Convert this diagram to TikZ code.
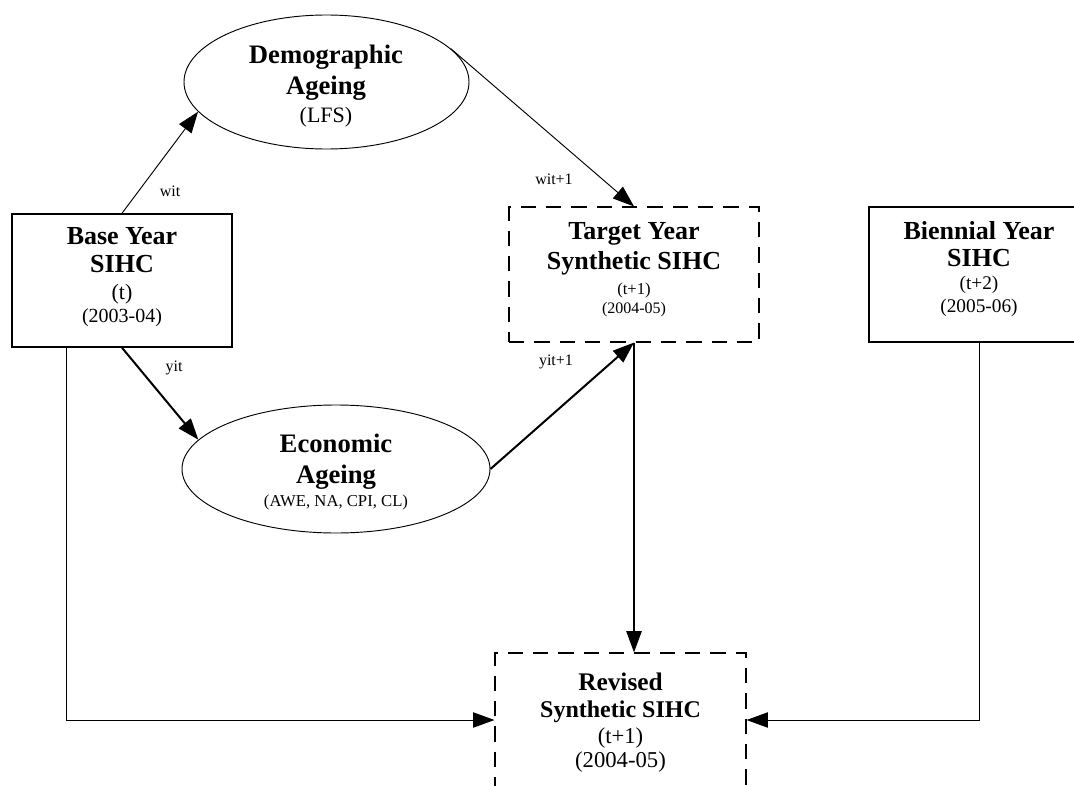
\documentclass[tikz,border=0pt]{standalone}
\usepackage{fontspec}
\setmainfont{Liberation Serif}
\usetikzlibrary{arrows.meta,shapes.geometric,calc}
\newcommand\bfs{\fontsize{19.5}{23}\selectfont\bfseries}
\newcommand\fsz[1]{\fontsize{#1}{#1}\selectfont}
\begin{document}
\begin{tikzpicture}[x=0.75pt,y=-0.75pt,
  sbox/.style={draw, line width=1.1pt, inner sep=0pt},
  dbox/.style={draw, line width=0.85pt, inner sep=0pt, dash pattern=on 11.5pt off 7.5pt},
  ell/.style={draw, ellipse, line width=0.7pt, inner sep=0pt},
  tx/.style={anchor=base, inner sep=0pt},
  lbl/.style={anchor=base, inner sep=0pt, font=\fsz{12}},
  arr/.style={-{Triangle[length=16pt,width=11.5pt]}},
  thinarr/.style={arr, line width=0.7pt},
  medarr/.style={arr, line width=1.1pt},
  thickarr/.style={arr, line width=1.5pt}
]
\useasboundingbox (0,0) rectangle (1074,785);

% shapes
\node[sbox, minimum width=165pt, minimum height=99.75pt] (base) at (122,280.5) {};
\node[dbox, minimum width=187.5pt, minimum height=101.25pt] (target) at (634,274.5) {};
\node[sbox, minimum width=165pt, minimum height=101.25pt] (bien) at (979,274.5) {};
\node[dbox, minimum width=188.25pt, minimum height=100.5pt] (rev) at (620.5,720) {};
\node[ell, minimum width=213.75pt, minimum height=100.5pt] (demo) at (326.5,82) {};
\node[ell, minimum width=231pt, minimum height=96pt] (econ) at (336,469) {};

% texts
\node[tx] (baseA) at (122,244) {\bfs Base Year};
\node[tx] (baseB) at (122,272) {\bfs SIHC};
\node[tx] (baseC) at (122,299) {\fsz{16.5}(t)};
\node[tx] (baseD) at (122,322) {\fsz{15}(2003-04)};

\node[tx] (targetA) at (634,239) {\bfs Target Year};
\node[tx] (targetB) at (634,269) {\bfs Synthetic SIHC};
\node[tx] (targetC) at (634,294) {\fsz{12.5}(t+1)};
\node[tx] (targetD) at (634,313) {\fsz{12}(2004-05)};

\node[tx] (bienA) at (979,239) {\bfs Biennial Year};
\node[tx] (bienB) at (979,266) {\bfs SIHC};
\node[tx] (bienC) at (979,289) {\fsz{14.5}(t+2)};
\node[tx] (bienD) at (979,312) {\fsz{14.5}(2005-06)};

\node[tx] (revA) at (620.5,690) {\fontsize{19}{22}\selectfont\bfseries Revised};
\node[tx] (revB) at (620.5,717) {\fontsize{18}{22}\selectfont\bfseries Synthetic SIHC};
\node[tx] (revC) at (620.5,743) {\fsz{17}(t+1)};
\node[tx] (revD) at (620.5,767) {\fsz{17}(2004-05)};

\node[tx] (demoA) at (326,63) {\fontsize{20}{23}\selectfont\bfseries Demographic};
\node[tx] (demoB) at (326,94) {\fontsize{20}{23}\selectfont\bfseries Ageing};
\node[tx] (demoC) at (326,122) {\fsz{16.5}(LFS)};

\node[tx] (econA) at (336,452) {\fontsize{20}{23}\selectfont\bfseries Economic};
\node[tx] (econB) at (336,483) {\fontsize{20}{23}\selectfont\bfseries Ageing};
\node[tx] (econC) at (336,506) {\fsz{12.5}(AWE, NA, CPI, CL)};

% connectors
\draw[thinarr] (base.north) -- (demo.193.7);
\draw[thinarr] (demo.15.7) -- (target.north);
\draw[thickarr] (base.south) -- (econ.168.1);
\draw[thickarr] (econ.east) -- (target.south);
\draw[medarr] (target.south) -- (target.south |- rev.north);
\coordinate (baseout) at ($(base.south west)!0.25!(base.south east)$);
\draw[thinarr] (baseout) |- (rev.west);
\draw[thinarr] (bien.south) |- (rev.east);

% connector labels
\node[lbl] (lwit) at (170,196) {wit};
\node[lbl] (lyit) at (174,371) {yit};
\node[lbl] (lwit1) at (554,184) {wit+1};
\node[lbl] (lyit1) at (556,365) {yit+1};
\end{tikzpicture}
\end{document}
